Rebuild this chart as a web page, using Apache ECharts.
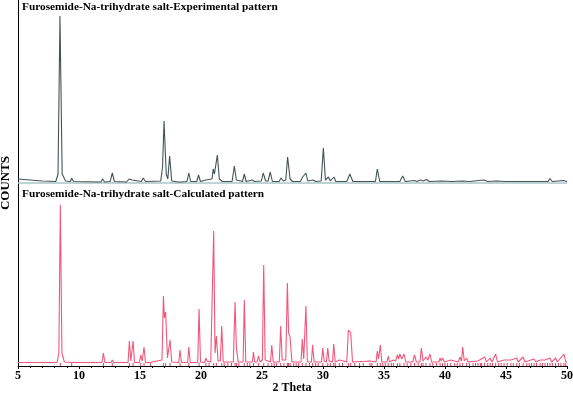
<!DOCTYPE html>
<html>
<head>
<meta charset="utf-8">
<script src="https://cdn.jsdelivr.net/npm/echarts@6/dist/echarts.min.js"></script>
<style>html,body{margin:0;padding:0;background:#fff;}#c{width:573px;height:394px;}</style>
</head>
<body>
<div id="c"></div>
<script>
// Axis ticks
const xTicks = [5, 10, 15, 20, 25, 30, 35, 40, 45, 50];
const xTitle = '2 Theta';
const yTitle = 'COUNTS';
const titleExp = 'Furosemide-Na-trihydrate salt-Experimental pattern';
const titleCalc = 'Furosemide-Na-trihydrate salt-Calculated pattern';

// Experimental pattern: [2theta, counts above its baseline]
const expPattern = [[5,3],[6,2],[7,1],[8.1,0.5],[8.28,8],[8.44,166],[8.62,8],[8.9,1],[9.3,0.5],[9.4,4],[9.55,0.5],[11.8,0],[11.94,3],[12.1,0],[12.55,0.5],[12.73,9],[12.9,0.5],[13.9,0],[14.1,3],[14.25,1],[14.35,2],[14.5,0],[15.1,0.5],[15.27,4],[15.45,0.5],[16.7,1],[16.85,15],[16.97,61],[17.15,8],[17.28,3],[17.43,26],[17.6,1],[18.1,0],[18.2,1],[18.35,0],[18.85,0.5],[19.0,9],[19.15,0.5],[19.65,0.5],[19.8,7],[19.95,0.5],[20.4,2],[20.55,0.5],[20.9,3],[21.0,13],[21.1,8],[21.34,27],[21.5,3],[21.6,3],[21.75,0.5],[22.55,0.5],[22.73,16],[22.9,2],[23.4,0.5],[23.55,8],[23.7,0.5],[24.2,2],[24.4,0.5],[24.95,1],[25.1,9],[25.3,1],[25.5,1],[25.68,10],[25.85,0.5],[26.4,0.5],[26.56,4],[26.75,1],[26.95,2],[27.1,25],[27.16,27],[27.3,3],[27.5,0.5],[28.15,0.5],[28.33,5],[28.45,3],[28.6,9],[28.75,1],[29.2,2],[29.4,0.5],[29.85,1],[30.03,34],[30.2,2],[30.44,5],[30.6,1],[30.9,5],[31.05,0.5],[31.95,0.5],[32.2,8],[32.45,0.5],[34.3,0.5],[34.45,13],[34.65,0.5],[36.3,0.5],[36.53,6],[36.75,0.5],[37.5,1.5],[37.7,0.5],[38.0,2],[38.2,1],[38.5,2.5],[38.7,0.5],[39.8,1],[40.5,0.5],[41.45,1],[42,0.5],[43.2,2],[43.5,0.5],[44.2,1],[45,0.5],[48.45,0.5],[48.6,3.5],[48.8,0.5],[49.7,1.5],[50,0.5]];

// Calculated pattern: [2theta, counts above its baseline]
const calcPattern = [[5,0.5],[8.2,0.5],[8.35,10],[8.47,158],[8.6,10],[8.8,1],[9.3,0.5],[9.4,2],[9.5,0.5],[11.88,0.5],[12.0,10],[12.12,0.5],[12.63,0.5],[12.73,3],[12.85,0.5],[14.02,0.5],[14.13,22],[14.25,2],[14.32,2],[14.43,22],[14.55,0.5],[14.95,0.5],[15.06,8],[15.18,2],[15.33,16],[15.45,0.5],[15.8,0.5],[15.87,2],[15.95,0.5],[16.8,3],[16.92,67],[17.0,45],[17.1,51],[17.25,5],[17.35,6],[17.46,23],[17.6,1],[18.18,0.5],[18.28,13],[18.4,0.5],[18.9,0.5],[19.0,16],[19.12,0.5],[19.73,0.5],[19.84,54],[19.96,1],[20.3,0.5],[20.4,5],[20.5,2],[20.66,3],[20.8,1],[20.95,3],[21.04,132],[21.15,10],[21.26,27],[21.4,2],[21.58,2],[21.7,37],[21.82,1],[22.65,1],[22.79,61],[22.9,15],[23.05,1],[23.45,1],[23.55,63],[23.67,1],[24.2,1],[24.3,11],[24.4,1],[24.6,1],[24.7,7],[24.85,1],[25.03,3],[25.14,98],[25.26,3],[25.7,1],[25.8,18],[25.92,1],[26.42,1],[26.53,37],[26.65,3],[26.95,3],[27.08,80],[27.18,30],[27.3,26],[27.45,1],[28.2,1],[28.3,24],[28.42,4],[28.6,57],[28.72,1],[29.05,1],[29.15,18],[29.27,1],[29.88,1],[29.98,15],[30.1,2],[30.28,1],[30.39,15],[30.5,2],[30.78,1],[30.88,19],[31.0,1],[31.34,3],[31.45,1],[31.95,1],[32.08,33],[32.27,30],[32.42,1],[33.85,2],[33.95,1],[34.35,1],[34.45,12],[34.55,4],[34.7,18],[34.82,1],[35.25,1],[35.35,7],[35.45,1],[35.77,3],[35.95,2],[36.1,8],[36.2,4],[36.3,9],[36.45,4],[36.64,9],[36.78,1],[37.35,1],[37.5,8],[37.65,1],[37.95,1],[38.06,15],[38.2,2],[38.44,6],[38.6,3],[38.77,9],[38.9,1],[39.5,1],[39.6,5],[39.7,2],[39.8,5],[39.95,1],[40.47,3],[40.6,1],[41.1,1],[41.23,6],[41.35,2],[41.45,16],[41.58,2],[41.77,5],[41.9,1],[42.7,2],[42.85,1],[43.25,6],[43.4,1],[43.7,5],[43.85,1],[44.15,9],[44.3,1],[44.84,3],[45.0,1],[45.4,3],[45.55,1],[45.88,5],[46.0,1],[46.4,6],[46.55,1],[47.3,4],[47.45,1],[47.8,3],[47.95,1],[48.2,3],[48.35,1],[48.6,5],[48.75,1],[49.07,5],[49.2,1],[49.75,9],[49.9,1],[50,1]];

// Reflection positions (tick marks under calculated pattern)
const reflections = [8.47,9.4,12.0,12.73,14.13,14.43,15.06,15.33,15.87,16.92,17.1,17.46,18.28,19.0,19.84,20.4,20.66,21.04,21.26,21.7,22.79,22.9,23.55,24.3,24.7,25.14,25.8,26.53,27.08,27.18,27.3,28.3,28.6,29.15,29.98,30.39,30.88,31.34,32.08,32.27,33.85,34.45,34.7,35.35,35.77,36.1,36.3,36.64,37.5,38.06,38.44,38.77,39.6,39.8,40.47,41.23,41.45,41.77,42.7,43.25,43.7,44.15,44.84,45.4,45.88,46.4,47.3,47.8,48.2,48.6,49.07,49.75,
  21.9,22.2,22.5,23.1,23.8,24.0,25.5,26.0,26.2,26.8,27.6,27.8,28.0,28.9,29.4,29.6,30.6,31.0,31.6,32.6,33.0,33.3,34.0,34.9,35.1,35.6,36.9,37.2,37.8,38.2,39.0,39.3,40.0,40.2,40.8,41.0,42.0,42.3,42.5,42.9,43.0,43.5,43.9,44.4,44.6,45.1,45.6,46.1,46.7,46.9,47.1,47.5,48.0,48.4,48.8,49.3,49.5,49.9];

const EXP_BASE = 184;   // vertical offset of experimental pattern
const CALC_BASE = 3;    // vertical offset of calculated pattern

const serif = '"Liberation Serif","Times New Roman",serif';
const chart = echarts.init(document.getElementById('c'), null, {renderer: 'canvas'});
chart.setOption({
  animation: false,
  backgroundColor: '#fff',
  grid: {left: 18, right: 6, top: 0, bottom: 28, containLabel: false, outerBoundsMode: 'none'},
  xAxis: {
    type: 'value', min: xTicks[0], max: xTicks[xTicks.length - 1], interval: 5,
    axisLine: {lineStyle: {color: '#000', width: 1}},
    axisTick: {show: true, length: 3, lineStyle: {color: '#000'}},
    minorTick: {show: true, splitNumber: 5, length: 2, lineStyle: {color: '#000'}},
    splitLine: {show: false},
    axisLabel: {color: '#000', fontFamily: serif, fontWeight: 'bold', fontSize: 12, margin: 4}
  },
  yAxis: {
    type: 'value', min: 0, max: 366,
    axisLine: {show: true, lineStyle: {color: '#000', width: 1}},
    axisTick: {show: false}, axisLabel: {show: false}, splitLine: {show: false}
  },
  graphic: [
    {type: 'text', left: 22, top: 2, style: {text: titleExp, font: 'bold 11.3px ' + serif, fill: '#000'}},
    {type: 'text', left: 22, top: 189, style: {text: titleCalc, font: 'bold 11.3px ' + serif, fill: '#000'}},
    {type: 'text', x: 292, y: 388,
     style: {text: xTitle, font: 'bold 12px ' + serif, fill: '#000', align: 'center', verticalAlign: 'middle'}},
    {type: 'text', x: 6, y: 183, rotation: Math.PI / 2,
     style: {text: yTitle, font: 'bold 13px ' + serif, fill: '#000', align: 'center', verticalAlign: 'middle'}}
  ],
  series: [
    {
      type: 'line', name: 'baseline', data: [[5, EXP_BASE - 1], [50, EXP_BASE - 1]],
      symbol: 'none', lineStyle: {color: '#a9c4c4', width: 1.5}, z: 1
    },
    {
      type: 'line', name: 'Experimental', data: expPattern.map(p => [p[0], p[1] + EXP_BASE]),
      symbol: 'none', lineStyle: {color: '#425555', width: 1.1}, z: 2
    },
    {
      type: 'line', name: 'Calculated', data: calcPattern.map(p => [p[0], p[1] + CALC_BASE]),
      symbol: 'none', lineStyle: {color: '#f0587a', width: 1.1}, z: 2
    },
    {
      type: 'scatter', name: 'Reflections', data: reflections.map(r => [r, 1.5]),
      symbol: 'rect', symbolSize: [1, 3], itemStyle: {color: '#e0103a'}, z: 3, silent: true
    }
  ]
});
</script>
</body>
</html>
